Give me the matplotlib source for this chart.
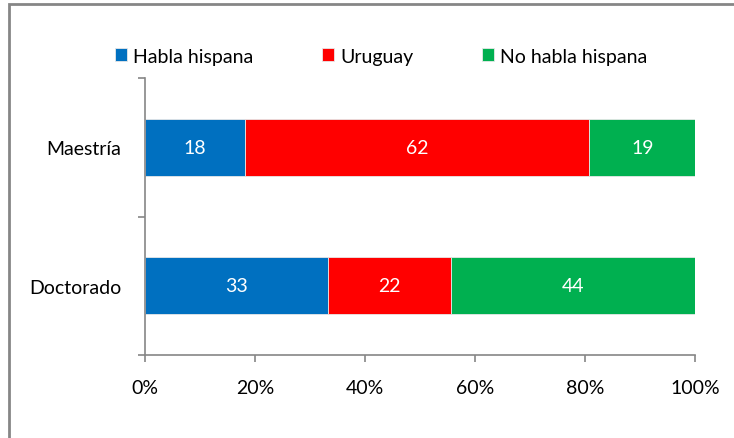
import numpy as np
import matplotlib.pyplot as plt
from matplotlib.patches import Rectangle

# datos
categorias = ["Doctorado", "Maestría"]
series = ["Habla hispana", "Uruguay", "No habla hispana"]
habla_hispana = [33, 18]
uruguay = [22, 62]
no_habla_hispana = [44, 19]
colores = ["#0070C0", "#FF0000", "#00B050"]

plt.rcParams["font.family"] = ["Lato", "DejaVu Sans"]
fs = 14

fig = plt.figure(figsize=(7.34, 4.39), dpi=100)
ax = fig.add_axes([145 / 734, 1 - 356 / 439, 550 / 734, 277 / 439])

# marco exterior
fig.patches.append(Rectangle((9 / 734, -0.1), 1.2, 1 - 5 / 439 + 0.1,
                             transform=fig.transFigure, fill=False,
                             edgecolor="#868686", linewidth=2))

valores = np.array([habla_hispana, uruguay, no_habla_hispana], dtype=float)
totales = valores.sum(axis=0)
y = np.arange(len(categorias))
izq = np.zeros(len(categorias))

for nombre, vals, color in zip(series, valores, colores):
    ancho = vals / totales
    barras = ax.barh(y, ancho, left=izq, height=0.415, color=color,
                     edgecolor="#e8e8e8", linewidth=0.6, label=nombre)
    for b, v in zip(barras, vals):
        ax.text(b.get_x() + b.get_width() / 2, b.get_y() + b.get_height() / 2,
                f"{v:.0f}", ha="center", va="center", color="white", fontsize=fs)
    izq = izq + ancho

ax.set_xlim(0, 1)
ax.set_ylim(-0.5, 1.5)
ax.set_xticks(np.arange(0, 1.01, 0.2))
ax.set_xticklabels([f"{int(round(t * 100))}%" for t in np.arange(0, 1.01, 0.2)])
ax.set_yticks(y)
ax.set_yticklabels(categorias)
ax.set_yticks([-0.5, 0.5, 1.5], minor=True)

for s in ["top", "right"]:
    ax.spines[s].set_visible(False)
for s in ["left", "bottom"]:
    ax.spines[s].set_color("#868686")
    ax.spines[s].set_linewidth(1.2)

ax.tick_params(axis="y", which="major", length=0, pad=17, labelsize=fs)
ax.tick_params(axis="y", which="minor", length=5, color="#868686", width=1.2)
ax.tick_params(axis="x", length=5, color="#868686", width=1.2, pad=12, labelsize=fs)

fig.legend(loc="center", bbox_to_anchor=(381 / 734, 1 - 57 / 439), ncol=3,
           frameon=False, fontsize=fs, handlelength=0.62, handleheight=0.62,
           handletextpad=0.3, columnspacing=3.55)

fig.savefig("out.png", dpi=100)
